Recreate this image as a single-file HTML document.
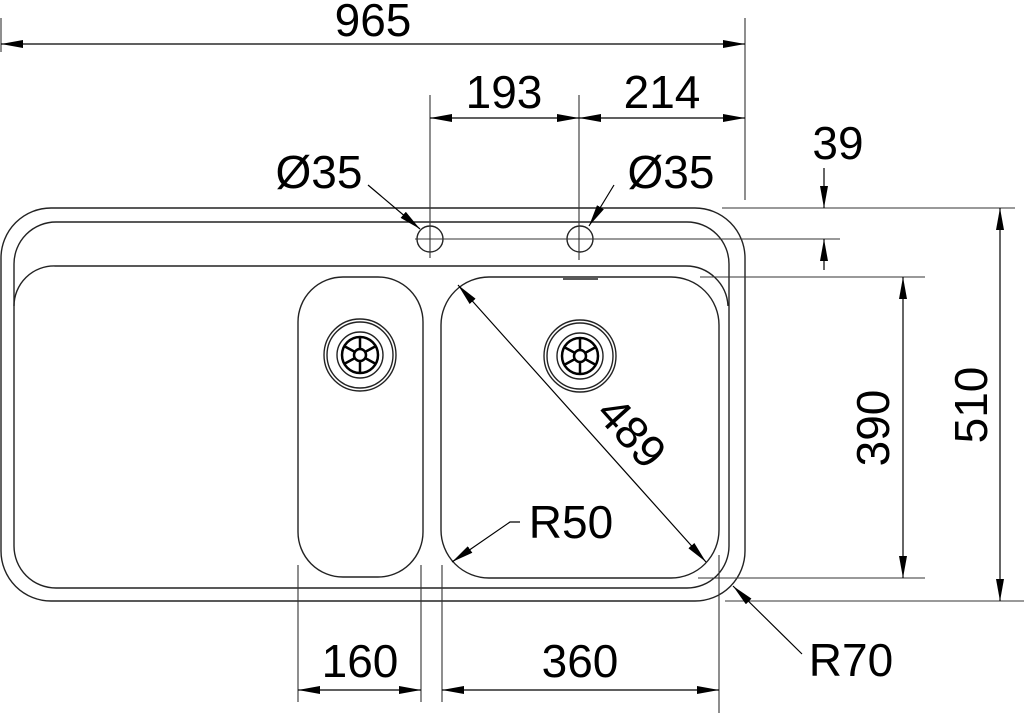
<!DOCTYPE html>
<html><head><meta charset="utf-8"><style>
html,body{margin:0;padding:0;background:#fff;}
svg{display:block;}
text{font-family:"Liberation Sans",sans-serif;font-size:46px;fill:#000;}
</style></head><body>
<svg width="1024" height="715" viewBox="0 0 1024 715" xmlns="http://www.w3.org/2000/svg">
<defs>
<marker id="a" viewBox="0 0 22 8" refX="22" refY="4" markerWidth="22" markerHeight="8" markerUnits="userSpaceOnUse" orient="auto-start-reverse"><path d="M0,0 L22,4 L0,8 z" fill="#000"/></marker>
</defs>
<g fill="none" stroke="#222" stroke-width="1.4">
<rect x="1" y="208" width="744" height="393" rx="50" ry="50"/>
<rect x="14" y="222" width="715" height="366" rx="42" ry="42"/>
<path d="M14,306 A40,40 0 0 1 55,266 L686,266 A42,42 0 0 1 728,306"/>
<rect x="298" y="277" width="125" height="300" rx="45" ry="45"/>
<rect x="441" y="277" width="278" height="301" rx="48" ry="48"/>
<line x1="563" y1="279" x2="598" y2="279"/>
<circle cx="430" cy="239" r="13"/>
<circle cx="580" cy="239" r="13"/>
<circle cx="360" cy="355" r="36"/><circle cx="360" cy="355" r="33"/><circle cx="360" cy="355" r="23"/>
<circle cx="580" cy="356" r="36"/><circle cx="580" cy="356" r="33"/><circle cx="580" cy="356" r="23"/>
</g>
<g fill="none" stroke="#000" stroke-width="2.5">
<circle cx="360" cy="355" r="18"/><circle cx="360" cy="355" r="6"/>
<circle cx="580" cy="356" r="18"/><circle cx="580" cy="356" r="6"/>
<path d="M360,349 V337 M360,361 V373 M355,352 L344,346 M365,352 L376,346 M355,358 L344,364 M365,358 L376,364"/>
<path d="M580,350 V338 M580,362 V374 M575,353 L564,347 M585,353 L596,347 M575,359 L564,365 M585,359 L596,365"/>
</g>
<g stroke="#333" stroke-width="1.1" fill="none">
<line x1="1" y1="18" x2="1" y2="52"/>
<line x1="745" y1="18" x2="745" y2="200"/>
<line x1="430" y1="95" x2="430" y2="258"/>
<line x1="579" y1="95" x2="579" y2="260"/>
<line x1="415" y1="239" x2="840" y2="239"/>
<line x1="722" y1="208" x2="1015" y2="208"/>
<line x1="700" y1="277" x2="925" y2="277"/>
<line x1="698" y1="578" x2="925" y2="578"/>
<line x1="725" y1="601" x2="1024" y2="601"/>
<line x1="298" y1="565" x2="298" y2="702"/>
<line x1="421" y1="565" x2="421" y2="702"/>
<line x1="442" y1="565" x2="442" y2="702"/>
<line x1="719" y1="555" x2="719" y2="713"/>
</g>
<g stroke="#000" stroke-width="1.2" fill="none">
<line x1="1" y1="44" x2="745" y2="44" marker-start="url(#a)" marker-end="url(#a)"/>
<line x1="430" y1="118" x2="579" y2="118" marker-start="url(#a)" marker-end="url(#a)"/>
<line x1="579" y1="118" x2="745" y2="118" marker-start="url(#a)" marker-end="url(#a)"/>
<line x1="824" y1="168" x2="824" y2="208" marker-end="url(#a)"/>
<line x1="824" y1="270" x2="824" y2="239" marker-end="url(#a)"/>
<line x1="903" y1="277" x2="903" y2="578" marker-start="url(#a)" marker-end="url(#a)"/>
<line x1="1000" y1="208" x2="1000" y2="601" marker-start="url(#a)" marker-end="url(#a)"/>
<line x1="298" y1="690" x2="421" y2="690" marker-start="url(#a)" marker-end="url(#a)"/>
<line x1="442" y1="690" x2="719" y2="690" marker-start="url(#a)" marker-end="url(#a)"/>
<line x1="458" y1="285" x2="706" y2="562" marker-start="url(#a)" marker-end="url(#a)"/>
<polyline points="520,522 510,522 452,562" marker-end="url(#a)"/>
<line x1="802" y1="654" x2="733" y2="586" marker-end="url(#a)"/>
<line x1="368" y1="185" x2="420" y2="229" marker-end="url(#a)"/>
<line x1="614" y1="185" x2="589" y2="226" marker-end="url(#a)"/>
</g>
<text x="373" y="36" text-anchor="middle">965</text>
<text x="504" y="108" text-anchor="middle">193</text>
<text x="662" y="108" text-anchor="middle">214</text>
<text x="838" y="159" text-anchor="middle">39</text>
<text x="319" y="188" text-anchor="middle">Ø35</text>
<text x="671" y="188" text-anchor="middle">Ø35</text>
<text x="571" y="538" text-anchor="middle">R50</text>
<text x="851" y="676" text-anchor="middle">R70</text>
<text x="360" y="677" text-anchor="middle">160</text>
<text x="580" y="677" text-anchor="middle">360</text>
<text transform="translate(889,428) rotate(-90)" text-anchor="middle">390</text>
<text transform="translate(987,405) rotate(-90)" text-anchor="middle">510</text>
<text transform="translate(620,443) rotate(48)" text-anchor="middle">489</text>
</svg>
</body></html>
